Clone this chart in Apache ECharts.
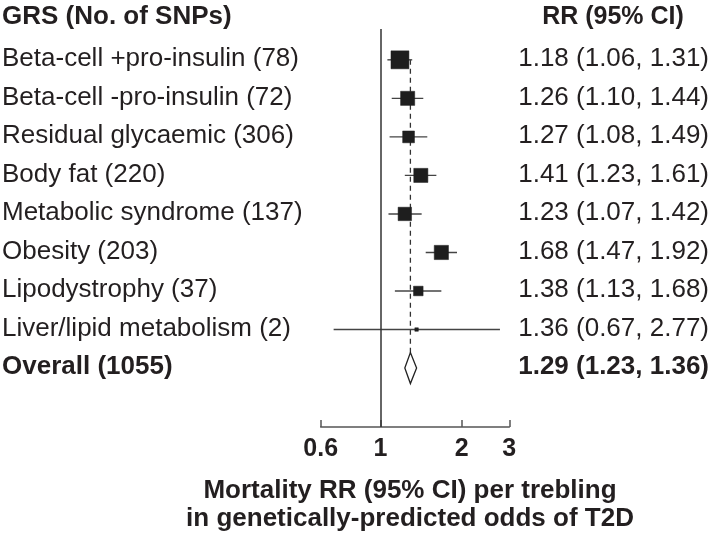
<!DOCTYPE html>
<html>
<head>
<meta charset="utf-8">
<script src="https://cdn.jsdelivr.net/npm/echarts@6/dist/echarts.min.js"></script>
<style>
    html, body {margin: 0; padding: 0; background: #fff;}
    #forest {width: 710px; height: 541px;}
</style>
</head>
<body>
<div id="forest"></div>
<script>
// GRS groups and number of SNPs
const groups = ['Beta-cell +pro-insulin', 'Beta-cell -pro-insulin', 'Residual glycaemic', 'Body fat',
    'Metabolic syndrome', 'Obesity', 'Lipodystrophy', 'Liver/lipid metabolism'];
const snps = [78, 72, 306, 220, 137, 203, 37, 2];
// RR and 95% CI
const rr = [1.18, 1.26, 1.27, 1.41, 1.23, 1.68, 1.38, 1.36];
const ciLow = [1.06, 1.10, 1.08, 1.23, 1.07, 1.47, 1.13, 0.67];
const ciHigh = [1.31, 1.44, 1.49, 1.61, 1.42, 1.92, 1.68, 2.77];
// overall estimate
const overallLabel = 'Overall';
const overallSnps = 1055;
const overall = [1.29, 1.23, 1.36];
const xTicks = [0.6, 1, 2, 3];

const FONT = "'Liberation Sans', Arial, Helvetica, sans-serif";
const INK = '#231f20';

let fmt = (v) => v.toFixed(2);

// rows: one per group plus overall
let rowData = groups.map((g, i) => [i, g + ' (' + snps[i] + ')', fmt(rr[i]) + ' (' + fmt(ciLow[i]) + ', ' + fmt(ciHigh[i]) + ')', 0]);
rowData.push([groups.length, overallLabel + ' (' + overallSnps + ')', fmt(overall[0]) + ' (' + fmt(overall[1]) + ', ' + fmt(overall[2]) + ')', 1]);

let estData = rr.map((v, i) => [v, i, ciLow[i], ciHigh[i]]);
let overallRow = groups.length;

let chart = echarts.init(document.getElementById('forest'), null, {renderer: 'canvas'});

let option = {
    animation: false,
    grid: {left: 320.7, width: 188.6, top: 29, height: 398},
    xAxis: {
        type: 'log',
        logBase: 10,
        min: 0.6,
        max: 3,
        axisLine: {onZero: false, lineStyle: {color: '#555', width: 1.5}},
        axisTick: {show: true, inside: true, length: 7, customValues: xTicks, lineStyle: {color: '#555', width: 1.5}},
        axisLabel: {
            customValues: xTicks,
            margin: 10,
            color: INK,
            fontFamily: FONT,
            fontWeight: 'bold',
            fontSize: 25,
            formatter: (v) => String(v)
        },
        splitLine: {show: false},
        minorTick: {show: false}
    },
    yAxis: {
        type: 'value',
        inverse: true,
        min: -0.8,
        max: 9.53,
        show: false
    },
    graphic: [
        {type: 'text', x: 2, y: 17, style: {text: 'GRS (No. of SNPs)', fill: INK, font: 'bold 26px ' + FONT, align: 'left', verticalAlign: 'middle'}},
        {type: 'text', x: 613, y: 17, style: {text: 'RR (95% CI)', fill: INK, font: 'bold 25px ' + FONT, align: 'center', verticalAlign: 'middle'}},
        {type: 'text', x: 410, y: 491, style: {text: 'Mortality RR (95% CI) per trebling', fill: INK, font: 'bold 26px ' + FONT, align: 'center', verticalAlign: 'middle'}},
        {type: 'text', x: 410, y: 519, style: {text: 'in genetically-predicted odds of T2D', fill: INK, font: 'bold 26px ' + FONT, align: 'center', verticalAlign: 'middle'}}
    ],
    series: [
        {
            // dashed line at overall estimate + solid line at RR = 1
            type: 'line',
            data: [[overall[0], 0], [overall[0], overallRow - 0.4]],
            symbol: 'none',
            lineStyle: {color: '#333', width: 1.3, type: [5, 4]},
            markLine: {
                silent: true,
                symbol: 'none',
                label: {show: false},
                lineStyle: {color: '#333', width: 1.5, type: 'solid'},
                data: [{xAxis: 1}]
            },
            z: 1
        },
        {
            // CI whiskers and weighted squares
            type: 'custom',
            clip: false,
            data: estData,
            renderItem: function (params, api) {
                let est = api.value(0), row = api.value(1), lo = api.value(2), hi = api.value(3);
                let pLo = api.coord([lo, row]);
                let pHi = api.coord([hi, row]);
                let pc = api.coord([est, row]);
                let se = (Math.log(hi) - Math.log(lo)) / 3.92;
                let side = Math.max(3.5, 0.97 / se);
                return {
                    type: 'group',
                    children: [
                        {type: 'line', shape: {x1: pLo[0], y1: pLo[1], x2: pHi[0], y2: pHi[1]}, style: {stroke: '#444', lineWidth: 1.4}},
                        {type: 'rect', shape: {x: pc[0] - side / 2, y: pc[1] - side / 2, width: side, height: side}, style: {fill: '#1e1e1e', stroke: '#1e1e1e', lineWidth: 0.5}}
                    ]
                };
            },
            z: 3
        },
        {
            // overall diamond
            type: 'custom',
            clip: false,
            data: [[overall[0], overallRow, overall[1], overall[2]]],
            renderItem: function (params, api) {
                let row = api.value(1);
                let c = api.coord([api.value(0), row]);
                let l = api.coord([api.value(2), row]);
                let r = api.coord([api.value(3), row]);
                let h = 15.5;
                return {
                    type: 'polygon',
                    shape: {points: [[l[0], c[1]], [c[0], c[1] - h], [r[0], c[1]], [c[0], c[1] + h]]},
                    style: {fill: '#fff', stroke: '#222', lineWidth: 1.3}
                };
            },
            z: 3
        },
        {
            // left labels and right RR text
            type: 'custom',
            clip: false,
            silent: true,
            data: rowData,
            renderItem: function (params, api) {
                let d = rowData[params.dataIndex];
                let y = api.coord([1, d[0]])[1] - 1;
                let font = (d[3] ? 'bold ' : '') + '26px ' + FONT;
                return {
                    type: 'group',
                    children: [
                        {type: 'text', x: 2, y: y, style: {text: d[1], fill: INK, font: font, align: 'left', verticalAlign: 'middle'}},
                        {type: 'text', x: 709, y: y, style: {text: d[2], fill: INK, font: font, align: 'right', verticalAlign: 'middle'}}
                    ]
                };
            },
            z: 4
        }
    ]
};

chart.setOption(option);
</script>
</body>
</html>
